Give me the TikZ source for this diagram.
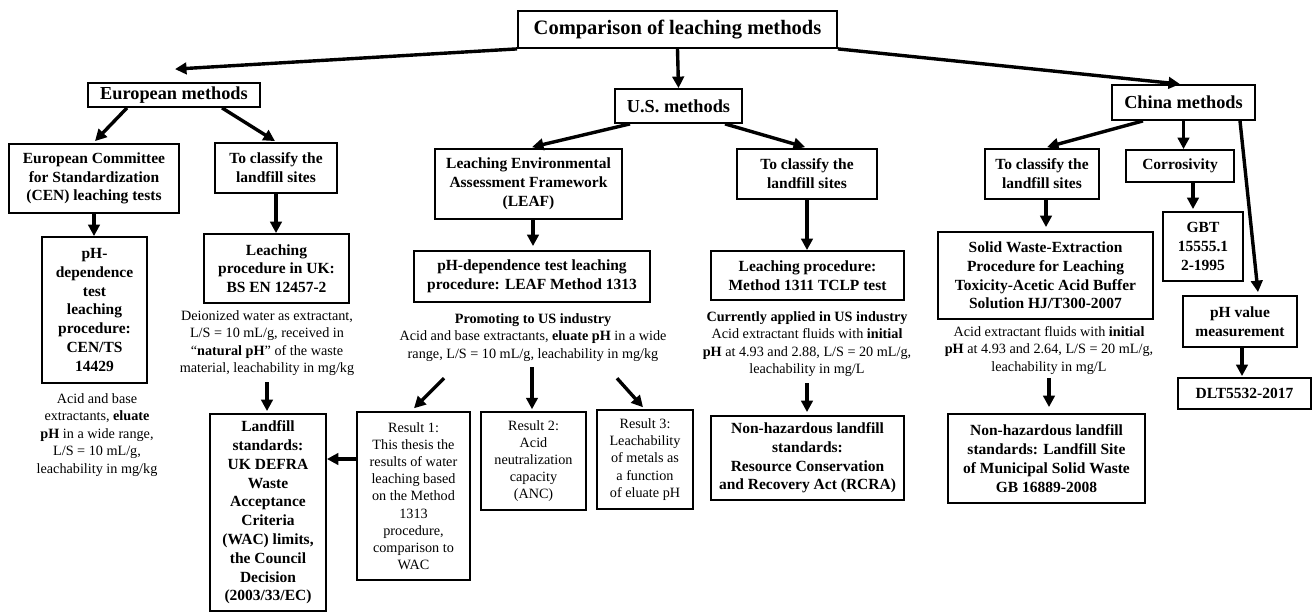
\documentclass[tikz,border=0pt]{standalone}
\usepackage{fontspec}
\setmainfont{Liberation Serif}
\usetikzlibrary{arrows.meta,calc}
\begin{document}
\begin{tikzpicture}[x=1pt,y=-1pt,
  box/.style={draw,line width=1.8pt,align=center,inner sep=0pt,font=\fontsize{15.5}{18.8}\selectfont\bfseries},
  hbox/.style={box,font=\fontsize{18.3}{22}\selectfont\bfseries},
  tbox/.style={draw,line width=1.5pt,align=center,inner sep=0pt,font=\fontsize{14.2}{17.2}\selectfont},
  note/.style={align=center,inner sep=0pt,font=\fontsize{14.2}{17.4}\selectfont},
  wh/.style 2 args={minimum width=#1pt,minimum height=#2pt},
  arr/.style={line width=3.4pt,-{Triangle[length=11.5pt,width=11.5pt]}},
]
\useasboundingbox (0,0) rectangle (1312,612);

% top levels
\node[box,wh={319}{37},font=\fontsize{20.5}{24}\selectfont\bfseries] (title) at (677.5,29.5) {Comparison of leaching methods};
\node[hbox,wh={172}{24}] (eu) at (174,95) {European methods};
\node[hbox,wh={127}{34}] (us) at (678.5,106) {U.S. methods};
\node[hbox,wh={143}{35}] (china) at (1183.5,102.5) {China methods};

% second level
\node[box,wh={170}{69}] (cen) at (94,178.5) {European Committee\\for Standardization\\(CEN) leaching tests};
\node[box,wh={122}{50}] (eucls) at (276,168) {To classify the\\landfill sites};
\node[box,wh={187}{70}] (leaf) at (528.5,184) {Leaching Environmental\\Assessment Framework\\(LEAF)};
\node[box,wh={140}{50}] (uscls) at (807,174) {To classify the\\landfill sites};
\node[box,wh={114}{50}] (chcls) at (1042,174) {To classify the\\landfill sites};
\node[box,wh={108}{32}] (corr) at (1180,166) {Corrosivity};
\node[box,wh={80}{69}] (gbt) at (1203,246.5) {GBT\\15555.1\\2-1995};

% third level
\node[box,wh={105}{146}] (ph) at (94.5,310) {pH-\\dependence\\test\\leaching\\procedure:\\CEN/TS\\14429};
\node[box,wh={145}{69}] (uk) at (276.5,268.5) {Leaching\\procedure in UK:\\BS EN 12457-2};
\node[box,wh={236}{51}] (lm) at (532,276.5) {pH-dependence test leaching\\procedure: LEAF Method 1313};
\node[box,wh={193}{49}] (tclp) at (807.5,275.5) {Leaching procedure:\\Method 1311 TCLP test};
\node[box,wh={215}{87}] (solid) at (1045.5,275.5) {Solid Waste-Extraction\\Procedure for Leaching\\Toxicity-Acetic Acid Buffer\\Solution HJ/T300-2007};
\node[box,wh={114}{51}] (phval) at (1240,321.5) {pH value\\measurement};
\node[box,wh={133}{31}] (dlt) at (1244.5,393.5) {DLT5532-2017};

% notes
\node[note] (tph) at (97,435) {Acid and base\\extractants, \textbf{eluate}\\\textbf{pH} in a wide range,\\L/S = 10 mL/g,\\leachability in mg/kg};
\node[note] (tuk) at (267,343) {Deionized water as extractant,\\L/S = 10 mL/g, received in\\“\textbf{natural pH}” of the waste\\material, leachability in mg/kg};
\node[note] (tleaf) at (533,337.5) {\textbf{Promoting to US industry}\\Acid and base extractants, \textbf{eluate pH} in a wide\\range, L/S = 10 mL/g, leachability in mg/kg};
\node[note] (ttclp) at (807,344) {\textbf{Currently applied in US industry}\\Acid extractant fluids with \textbf{initial}\\\textbf{pH} at 4.93 and 2.88, L/S = 20 mL/g,\\leachability in mg/L};
\node[note] (tsolid) at (1049,350.5) {Acid extractant fluids with \textbf{initial}\\\textbf{pH} at 4.93 and 2.64, L/S = 20 mL/g,\\leachability in mg/L};

% bottom level
\node[box,wh={116}{197}] (landfill) at (268,512.5) {Landfill\\standards:\\UK DEFRA\\Waste\\Acceptance\\Criteria\\(WAC) limits,\\the Council\\Decision\\(2003/33/EC)};
\node[tbox,wh={113}{168}] (r1) at (413.5,496) {Result 1:\\This thesis the\\results of water\\leaching based\\on the Method\\1313\\procedure,\\comparison to\\WAC};
\node[tbox,wh={105}{98}] (r2) at (533.5,461) {Result 2:\\Acid\\neutralization\\capacity\\(ANC)};
\node[tbox,wh={96}{99}] (r3) at (645,459.5) {Result 3:\\Leachability\\of metals as\\a function\\of eluate pH};
\node[box,wh={193}{84}] (rcra) at (807.5,458) {Non-hazardous landfill\\standards:\\Resource Conservation\\and Recovery Act (RCRA)};
\node[box,wh={197}{89}] (gb) at (1046.5,458.5) {Non-hazardous landfill\\standards: Landfill Site\\of Municipal Solid Waste\\GB 16889-2008};

% connectors
\draw[arr] (title.south west) -- ($(eu.north)+(1,-13)$);
\draw[arr] (title.south east) -- ($(china.north)+(-3.5,0)$);
\draw[arr] (title.south) -- (us.north);
\draw[arr] ($(eu.south)+(-47,0)$) -- ($(cen.north)+(1,-2)$);
\draw[arr] ($(eu.south)+(48,0)$) -- ($(eucls.north)+(-1,-1)$);
\draw[arr] (cen.south) -- (cen.south |- ph.north);
\draw[arr] (eucls.south) -- (eucls.south |- uk.north);
\draw[arr] ($(us.south)+(-48.5,0)$) -- ($(leaf.north)+(3.5,-1)$);
\draw[arr] ($(us.south)+(46.5,0)$) -- ($(uscls.north)+(-2,-1)$);
\draw[arr] ($(leaf.south)+(4.5,0)$) -- ($(lm.north)+(1,-4)$);
\draw[arr] (uscls.south) -- (uscls.south |- tclp.north);
\draw[arr] ($(china.south)+(-40.5,0)$) -- ($(chcls.north)+(5,-1)$);
\draw[arr] (china.south) -- (china.south |- corr.north);
\draw[arr] ($(china.south)+(56.5,0)$) -- ($(phval.north)+(18,-3)$);
\draw[arr] ($(corr.south)+(13,0)$) -- ($(gbt.north)+(-10,-2)$);
\draw[arr] ($(chcls.south)+(4,0)$) -- ($(solid.north)+(0.5,-4)$);
\draw[arr] ($(phval.south)+(2,0)$) -- ($(dlt.north)+(-2.5,-1)$);
\draw[arr] ($(landfill.north)+(-1,-31)$) -- ($(landfill.north)+(-1,-2)$);
\draw[arr] ($(r1.north)+(30.5,-33)$) -- ($(r1.north)+(0.5,-3)$);
\draw[arr] ($(r2.north)+(-1.5,-44)$) -- ($(r2.north)+(-1.5,-2)$);
\draw[arr] ($(r3.north)+(-28,-31)$) -- ($(r3.north)+(-2,-2)$);
\draw[arr] ($(r1.west)+(0,-37)$) -- ($(landfill.east)+(0,-53.5)$);
\draw[arr] ($(rcra.north)+(-0.5,-32)$) -- ($(rcra.north)+(-0.5,-3)$);
\draw[arr] ($(gb.north)+(2.5,-35)$) -- ($(gb.north)+(2.5,-6)$);
\end{tikzpicture}
\end{document}
